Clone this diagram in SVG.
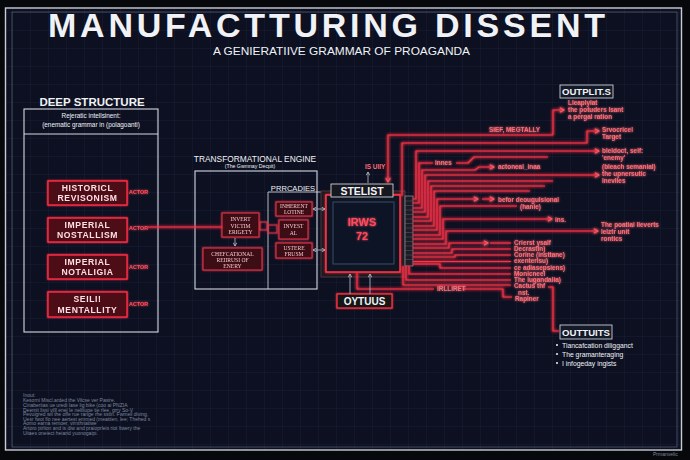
<svg xmlns="http://www.w3.org/2000/svg" width="690" height="460" viewBox="0 0 690 460">
<defs>
<pattern id="grid" width="18" height="18" patternUnits="userSpaceOnUse" x="12" y="12"><path d="M18 0H0V18" fill="none" stroke="#1c2540" stroke-width="0.7"/></pattern>
<filter id="glow" x="-10%" y="-10%" width="120%" height="120%"><feGaussianBlur stdDeviation="1.6" result="b"/><feMerge><feMergeNode in="b"/><feMergeNode in="b"/><feMergeNode in="SourceGraphic"/></feMerge></filter>
<filter id="glowS" x="-10%" y="-10%" width="120%" height="120%"><feGaussianBlur stdDeviation="0.9" result="b"/><feMerge><feMergeNode in="b"/><feMergeNode in="SourceGraphic"/></feMerge></filter>
<marker id="ar" viewBox="0 0 6 6" refX="5" refY="3" markerWidth="5" markerHeight="5" orient="auto"><path d="M0.5,0.5 L5,3 L0.5,5.5" fill="none" stroke="#ff5a68" stroke-width="1.1"/></marker>
<marker id="ag" viewBox="0 0 6 6" refX="5" refY="3" markerWidth="5" markerHeight="5" orient="auto-start-reverse"><path d="M0.5,0.5 L5,3 L0.5,5.5" fill="none" stroke="#b8bcc8" stroke-width="1.1"/></marker>
</defs>
<style>
.red{fill:none;stroke:#ff3347;stroke-width:1.1;stroke-linejoin:round}
.gray{fill:none;stroke:#aab0bd;stroke-width:0.9}
.rbox{fill:#4d0a17;stroke:#ff2f46;stroke-width:1.4}
.ebox{fill:#3e0912;stroke:#e0354a;stroke-width:1.1}
.rt{font-family:"Liberation Sans",Arial,sans-serif;font-weight:700;fill:#ffe0e3;text-anchor:middle;font-size:8.6px;letter-spacing:0.6px}
.et{font-family:"Liberation Serif",serif;fill:#f3c9cd;text-anchor:middle;font-size:5.6px}
.actor{font-family:"Liberation Sans",sans-serif;font-weight:700;fill:#ff4a5a;font-size:5.4px}
.lab{font-family:"Liberation Sans",sans-serif;font-weight:700;fill:#ff6b76;font-size:6.4px}
.wbox{fill:none;stroke:#d5d9e2;stroke-width:1.1}
.wt{font-family:"Liberation Sans",Arial,sans-serif;fill:#f0f2f6}
.note{font-family:"Liberation Sans",sans-serif;fill:#7e879e;font-size:5px}
</style>
<rect width="690" height="460" fill="#07080b"/>
<rect x="5.5" y="8" width="676" height="442" fill="#0c1020"/>
<rect x="5.5" y="8" width="676" height="442" fill="url(#grid)"/>
<rect x="5.5" y="8" width="676" height="442" fill="none" stroke="#c9ccd4" stroke-width="1.4"/>
<rect x="12" y="12" width="665" height="435" fill="none" stroke="#5d6478" stroke-width="0.7"/>

<g id="title">
<text class="wt" x="48" y="37" font-size="34" font-weight="700" textLength="557" lengthAdjust="spacing">MANUFACTTURING DISSENT</text>
<text class="wt" x="213" y="55" font-size="11" textLength="257" lengthAdjust="spacingAndGlyphs">A GENIERATIIVE GRAMMAR OF PROAGANDA</text>
</g>

<g id="deep-structure">
<text class="wt" x="92" y="106" font-size="11.5" font-weight="700" text-anchor="middle">DEEP STRUCTURE</text>
<rect class="wbox" x="24" y="109" width="134" height="223"/>
<line x1="24" y1="134" x2="158" y2="134" stroke="#d5d9e2" stroke-width="1"/>
<text class="wt" x="91" y="117.5" font-size="6.4" text-anchor="middle">Rejeratic intellsinent:</text>
<text class="wt" x="91" y="126.5" font-size="6.4" text-anchor="middle">(enematic grammar in (polagoanti)</text>
</g>

<g filter="url(#glowS)">
<g id="actor-historicl">
<rect class="rbox" x="48" y="181" width="79" height="24"/>
<text class="rt" x="87.5" y="191">HISTORICL</text><text class="rt" x="87.5" y="201">REVISONISM</text>
<text class="actor" x="129" y="194">ACTOR</text>
</g>
<g id="actor-nostallism">
<rect class="rbox" x="48" y="218" width="79" height="24"/>
<text class="rt" x="87.5" y="228">IMPERIAL</text><text class="rt" x="87.5" y="238">NOSTALLISM</text>
<text class="actor" x="129" y="229.5">ACTOR</text>
</g>
<g id="actor-notaligia">
<rect class="rbox" x="48" y="255" width="79" height="24"/>
<text class="rt" x="87.5" y="265">IMPERIAL</text><text class="rt" x="87.5" y="275">NOTALIGIA</text>
<text class="actor" x="129" y="269">ACTOR</text>
</g>
<g id="actor-mentallity">
<rect class="rbox" x="48" y="292" width="79" height="25"/>
<text class="rt" x="87.5" y="302">SEILI!</text><text class="rt" x="87.5" y="312.5">MENTALLITY</text>
<text class="actor" x="129" y="306">ACTOR</text>
</g>
</g>

<g id="engine">
<text class="wt" x="255" y="161.5" font-size="8.4" text-anchor="middle">TRANSFORMATIONAL ENGINE</text>
<text class="wt" x="250" y="167.5" font-size="5.2" text-anchor="middle">(The Gwmnay Decpit)</text>
<rect class="wbox" x="195" y="171" width="122" height="118"/>
<path d="M322,192 H268 V289" fill="none" stroke="#c9cdd6" stroke-width="0.9"/>
<text class="wt" x="293" y="190.5" font-size="7.6" text-anchor="middle">PRRCADIES</text>
</g>

<g filter="url(#glowS)">
<g id="invert-victim"><rect class="ebox" x="222" y="213" width="37" height="24"/>
<text class="et" x="240.5" y="221">INVERT</text><text class="et" x="240.5" y="227.5">VICTIM</text><text class="et" x="240.5" y="234">ERIGETY</text></g>
<g id="chefcational"><rect class="ebox" x="203" y="248" width="59" height="22"/>
<text class="et" x="232.5" y="255.5">CHEFCATIONAL</text><text class="et" x="232.5" y="261.5">REIIRUSI OF</text><text class="et" x="232.5" y="267.5">ENERY</text></g>
<g id="inherent"><rect class="ebox" x="276" y="202" width="36" height="14"/>
<text class="et" x="294" y="208">INHERENT</text><text class="et" x="294" y="214">LOTINE</text></g>
<g id="invest"><rect class="ebox" x="279" y="220" width="29" height="19"/>
<text class="et" x="293.5" y="228">INVEST</text><text class="et" x="293.5" y="235">AL</text></g>
<g id="ustere"><rect class="ebox" x="276" y="243" width="36" height="15"/>
<text class="et" x="294" y="249.5">USTERE</text><text class="et" x="294" y="256">FRUSM</text></g>
<rect x="260" y="222" width="7" height="8" fill="none" stroke="#e0354a" stroke-width="0.9"/>
<rect x="268" y="225" width="9" height="8" fill="none" stroke="#e0354a" stroke-width="0.9"/>
</g>

<g id="stelist">
<rect x="321" y="191" width="84" height="86" fill="#1c1920" stroke="#4a3640" stroke-width="1"/>
<rect x="326" y="195" width="74" height="77" fill="#0f1322" stroke="#ff3347" stroke-width="1.6" filter="url(#glowS)"/>
<rect x="333" y="202" width="61" height="62" fill="#0c1426" stroke="#3c4c68" stroke-width="1"/>
<rect x="331" y="184" width="62" height="13" fill="#17171f" stroke="#cfd1d8" stroke-width="0.9"/>
<text class="wt" x="362" y="194.8" font-size="10.5" font-weight="700" text-anchor="middle">STELIST</text>
<text x="362" y="226" font-family="Liberation Sans,sans-serif" font-weight="700" font-size="11" fill="#ff4a5c" text-anchor="middle" filter="url(#glowS)">IRWS</text>
<text x="362" y="240" font-family="Liberation Sans,sans-serif" font-weight="700" font-size="11" fill="#ff4a5c" text-anchor="middle" filter="url(#glowS)">72</text>
<rect x="405" y="196" width="8" height="70" fill="#1a1c26" stroke="#aeb2bd" stroke-width="0.6"/>
<path d="M405,201H413M405,205.5H413M405,210H413M405,214.5H413M405,219H413M405,223.5H413M405,228H413M405,232.5H413M405,237H413M405,241.5H413M405,246H413M405,250.5H413M405,255H413M405,259.5H413" stroke="#6d7280" stroke-width="0.4"/>
<text class="lab" x="365" y="168.5" font-size="5.4">IS UIIY</text>
</g>

<g id="oytuus">
<rect x="337" y="294" width="55" height="14" fill="#121218" stroke="#ff3347" stroke-width="1.3" filter="url(#glowS)"/>
<text class="wt" x="364.5" y="304.5" font-size="10" font-weight="700" text-anchor="middle">OYTUUS</text>
</g>

<g id="outplits">
<rect x="560" y="85" width="53" height="13" fill="#141a28" stroke="#c9ccd4" stroke-width="0.9"/>
<text class="wt" x="586.5" y="95" font-size="9.6" font-weight="700" text-anchor="middle">OUTPLIT.S</text>
</g>

<g id="outtuits">
<rect x="560" y="325" width="52" height="14" fill="#141a28" stroke="#c9ccd4" stroke-width="0.9"/>
<text class="wt" x="586" y="335.5" font-size="9.6" font-weight="700" text-anchor="middle">OUTTUITS</text>
<g class="wt" font-size="6.8">
<circle cx="557" cy="345" r="1" fill="#f0f2f6"/><text x="562" y="347.5">Tiancafcation diligganct</text>
<circle cx="557" cy="354" r="1" fill="#f0f2f6"/><text x="562" y="356.5">The gramanteraging</text>
<circle cx="557" cy="363" r="1" fill="#f0f2f6"/><text x="562" y="365.5">I infogeday ingists</text>
</g>
</g>

<g id="connectors">
<g filter="url(#glow)">
<path class="red" d="M148,227 H222"/>
<path class="red" d="M553,135 H388 V182" marker-end="url(#ar)"/>
<path class="red" d="M553,135 V110 H564" marker-end="url(#ar)"/>
<path class="red" d="M402,196 V143 H587 V131 H599" marker-end="url(#ar)"/>
<path class="red" d="M413,199 H416 V151 H599" marker-end="url(#ar)"/>
<path class="red" d="M413,203 H419 V163 H433 M456,163 H468 L474,157 H548"/>
<path class="red" d="M413,208 H422 V170 H475 L479,167 H494" marker-end="url(#ar)"/>
<path class="red" d="M413,212 H425 V175 H599" marker-end="url(#ar)"/>
<path class="red" d="M413,217 H428 V181 H553"/>
<path class="red" d="M413,221 H431 V186 H545"/>
<path class="red" d="M413,226 H434 V191 H530"/>
<path class="red" d="M413,230 H437 V199 H478" marker-end="url(#ar)"/>
<path class="red" d="M482,199 H494" marker-end="url(#ar)"/>
<path class="red" d="M413,235 H440 V206 H517"/>
<path class="red" d="M413,239 H443 V219 H552" marker-end="url(#ar)"/>
<path class="red" d="M413,244 H446 V231 H598" marker-end="url(#ar)"/>
<path class="red" d="M413,248 H449 V243 H488" marker-end="url(#ar)"/>
<path class="red" d="M490,243 H511"/>
<path class="red" d="M413,253 H452 V249 H511"/>
<path class="red" d="M413,257 H455 V255 H511"/>
<path class="red" d="M413,261.5 H511"/>
<path class="red" d="M413,264 H440 V268 H511"/>
<path class="red" d="M409,266 V274 H511"/>
<path class="red" d="M406,266 V280 H511"/>
<path class="red" d="M403,266 V285 H511"/>
<path class="red" d="M357,273 V289 H434 M462,289 H503 V297 H512"/>
<path class="red" d="M548,287 H553 V331 H559"/>
</g>
<path class="gray" d="M235,238 V246" marker-end="url(#ag)"/>
<path class="gray" d="M313,209 H325" marker-start="url(#ag)" marker-end="url(#ag)"/>
<path class="gray" d="M313,250 H325" marker-start="url(#ag)" marker-end="url(#ag)"/>
<path class="gray" d="M350,294 V274" marker-end="url(#ag)"/>
<path class="gray" d="M370,294 V274" marker-end="url(#ag)"/>
<path class="gray" d="M368,183 V172" marker-end="url(#ag)"/>
</g>

<g id="labels" filter="url(#glowS)">
<text class="lab" x="568" y="105">Lleaplylat</text>
<text class="lab" x="568" y="112">the potuders lsant</text>
<text class="lab" x="568" y="119">a pergal ration</text>
<text class="lab" x="489" y="132" font-size="5.8">SIEF, MEGTALLY</text>
<text class="lab" x="602" y="132">Srvocricel</text>
<text class="lab" x="602" y="139">Target</text>
<text class="lab" x="602" y="153">bleldoct, self:</text>
<text class="lab" x="602" y="160">'enemy'</text>
<text class="lab" x="602" y="169">(bleach semanial)</text>
<text class="lab" x="602" y="176">the upnersutic</text>
<text class="lab" x="602" y="183">lnevlles</text>
<text class="lab" x="435" y="165" font-size="5.8">innes</text>
<text class="lab" x="498" y="169">actoneal_inaa</text>
<text class="lab" x="498" y="201.5">befor deougulsional</text>
<text class="lab" x="520" y="208.5">(hanie)</text>
<text class="lab" x="555" y="221.5">ins.</text>
<text class="lab" x="601" y="227">The poatial lleverts</text>
<text class="lab" x="601" y="234">lelztr unit</text>
<text class="lab" x="601" y="241">rontics</text>
<text class="lab" x="514" y="245">Crierst ysalf</text>
<text class="lab" x="514" y="251">Decrastin)</text>
<text class="lab" x="514" y="257">Corine (insttane)</text>
<text class="lab" x="514" y="263">exenterisu)</text>
<text class="lab" x="514" y="270">ce adiasepsiens)</text>
<text class="lab" x="514" y="276">Monicneel</text>
<text class="lab" x="514" y="282">The iugandalia)</text>
<text class="lab" x="514" y="288">Cactus thf</text>
<text class="lab" x="518" y="295">nst.</text>
<text class="lab" x="515" y="301">Rapiner</text>
<text class="lab" x="437" y="291" font-size="5.4">IRLLIRET</text>
</g>

<g id="notes">
<text class="note" x="23" y="397">Inout:</text>
<text class="note" x="23" y="402">Kesorni Miscl.arded the Vilcse ver Pasire.</text>
<text class="note" x="23" y="407">Cinaberiias ue uredi lase lig bike (coo ai PNZIA</text>
<text class="note" x="23" y="411.5">Deemit lissi villl enei le neliliupe tie rlee, grry So-V</text>
<text class="note" x="23" y="416">Pevuigred wil the offe rue range rhe sstin. Fwmell diving,</text>
<text class="note" x="23" y="420.5">Uesr fwoi flo nee aertest emmed (meattien, lee; Thehed s</text>
<text class="note" x="23" y="425" font-size="4.4">Aomo earna remoer, virnthnatiwe</text>
<text class="note" x="23" y="430">Artoro pirlion and is diw and praioprleis riot ltwery the</text>
<text class="note" x="23" y="435">Uiiaes oneiect heiarid yuonogaipi.</text>
<text class="note" x="653" y="455.5" font-size="4.4">Prmanvelic</text>
</g>
</svg>
